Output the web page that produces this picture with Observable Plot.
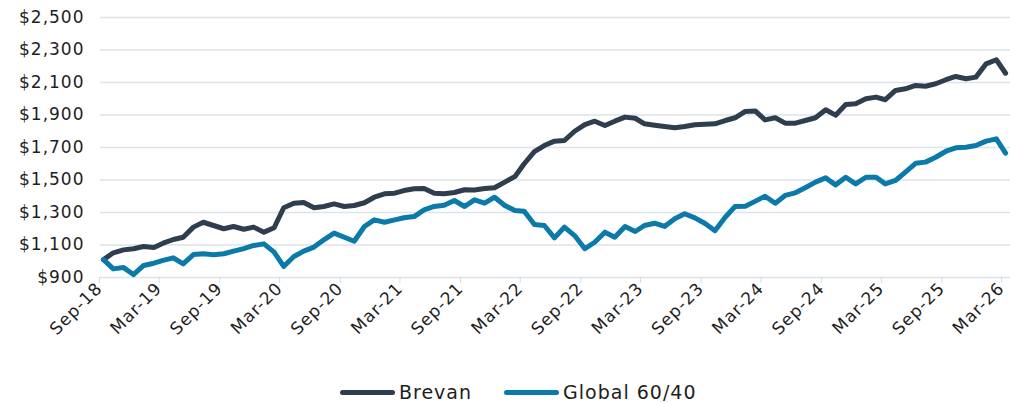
<!DOCTYPE html>
<html>
<head>
<meta charset="utf-8">
<script src="https://cdn.jsdelivr.net/npm/d3@7"></script>
<script src="https://cdn.jsdelivr.net/npm/@observablehq/plot@0.6"></script>
<style>
  html, body { margin: 0; padding: 0; background: #ffffff; }
  #wrap { position: relative; width: 1010px; height: 403px; font-family: "DejaVu Sans", sans-serif; }
  #chart svg text { letter-spacing: 1px; }
  #legend { position: absolute; left: 340px; top: 381px; display: flex; align-items: center; font-size: 19px; color: #1e1e1e; letter-spacing: 1px; }
  .item { display: flex; align-items: center; margin-right: 32px; }
  .sw { display: inline-block; width: 55px; height: 5px; border-radius: 3px; margin-right: 4px; }
</style>
</head>
<body>
<div id="wrap">
  <div id="chart"></div>
  <div id="legend"></div>
</div>
<script>
// Monthly observations, Sep-18 .. Mar-26
const startYear = 2018, startMonth = 8; // September (0-based)
const seriesNames = ["Brevan", "Global 60/40"];
const seriesColors = ["#2e3e4e", "#0b7aa8"];

const brevan = [
  1010, 1052, 1070, 1077, 1091, 1085, 1111, 1134, 1148, 1210,
  1240, 1220, 1200, 1214, 1197, 1210, 1179, 1206, 1329, 1357,
  1361, 1329, 1337, 1353, 1337, 1343, 1360, 1394, 1415, 1419,
  1435, 1446, 1448, 1419, 1415, 1423, 1440, 1438, 1448, 1452,
  1487, 1522, 1600, 1675, 1712, 1739, 1743, 1800, 1841, 1862,
  1835, 1862, 1887, 1880, 1846, 1837, 1829, 1821, 1829, 1840,
  1843, 1846, 1866, 1883, 1922, 1924, 1870, 1883, 1850, 1850,
  1866, 1883, 1932, 1899, 1965, 1969, 2000, 2010, 1994, 2051,
  2061, 2082, 2077, 2092, 2117, 2137, 2123, 2133, 2215, 2240,
  2157
];
const global6040 = [
  1010, 953, 961, 918, 974, 988, 1005, 1021, 984, 1041,
  1046, 1040, 1046, 1062, 1078, 1097, 1107, 1056, 968, 1029,
  1062, 1087, 1132, 1173, 1148, 1123, 1214, 1255, 1240, 1255,
  1268, 1275, 1316, 1337, 1345, 1374, 1337, 1378, 1357, 1394,
  1343, 1312, 1308, 1226, 1220, 1144, 1210, 1158, 1077, 1117,
  1179, 1148, 1214, 1183, 1220, 1234, 1214, 1261, 1292, 1267,
  1232, 1188, 1271, 1337, 1339, 1370, 1400, 1357, 1405, 1421,
  1452, 1487, 1513, 1470, 1517, 1476, 1517, 1517, 1476, 1497,
  1548, 1603, 1610, 1640, 1677, 1698, 1702, 1712, 1739, 1753,
  1665
];
const yTicks = [900, 1100, 1300, 1500, 1700, 1900, 2100, 2300, 2500];
const xTickLabels = ["Sep-18","Mar-19","Sep-19","Mar-20","Sep-20","Mar-21","Sep-21","Mar-22",
  "Sep-22","Mar-23","Sep-23","Mar-24","Sep-24","Mar-25","Sep-25","Mar-26"];

const dates = brevan.map((_, i) => new Date(Date.UTC(startYear, startMonth + i, 1)));
const rows = [];
dates.forEach((d, i) => {
  rows.push({date: d, value: brevan[i], series: seriesNames[0]});
  rows.push({date: d, value: global6040[i], series: seriesNames[1]});
});
const parseTick = d3.utcParse("%b-%y");
const xTicks = xTickLabels.map(s => parseTick(s));

const chart = Plot.plot({
  width: 1010,
  height: 350,
  marginLeft: 100,
  marginRight: 0,
  marginTop: 17,
  marginBottom: 73,
  style: {fontFamily: "DejaVu Sans, sans-serif", fontSize: "17px", color: "#1e1e1e", background: "#fff", overflow: "visible"},
  x: {type: "utc", domain: [new Date(Date.UTC(2018, 7, 23)), new Date(Date.UTC(2026, 2, 16))]},
  y: {domain: [900, 2500]},
  color: {domain: seriesNames, range: seriesColors},
  marks: [
    Plot.ruleY(yTicks, {stroke: "#dde3ea", strokeWidth: 1.5}),
    Plot.axisY({ticks: yTicks, tickFormat: d => "$" + d3.format(",")(d), tickSize: 0, tickPadding: 16, label: null, fill: "#1e1e1e"}),
    Plot.axisX({ticks: xTicks, tickFormat: (d, i) => xTickLabels[i], tickRotate: -45, tickSize: 6, tickPadding: 2, dx: -4, label: null, stroke: "#d3dae2", fill: "#1e1e1e"}),
    Plot.lineY(rows, {x: "date", y: "value", z: "series", stroke: "series", strokeWidth: 5, strokeLinejoin: "round", strokeLinecap: "round"})
  ]
});
document.getElementById("chart").appendChild(chart);

const legend = document.getElementById("legend");
seriesNames.forEach((name, i) => {
  const item = document.createElement("div");
  item.className = "item";
  const sw = document.createElement("span");
  sw.className = "sw";
  sw.style.background = seriesColors[i];
  const t = document.createElement("span");
  t.textContent = name;
  item.appendChild(sw);
  item.appendChild(t);
  legend.appendChild(item);
});
</script>
</body>
</html>
